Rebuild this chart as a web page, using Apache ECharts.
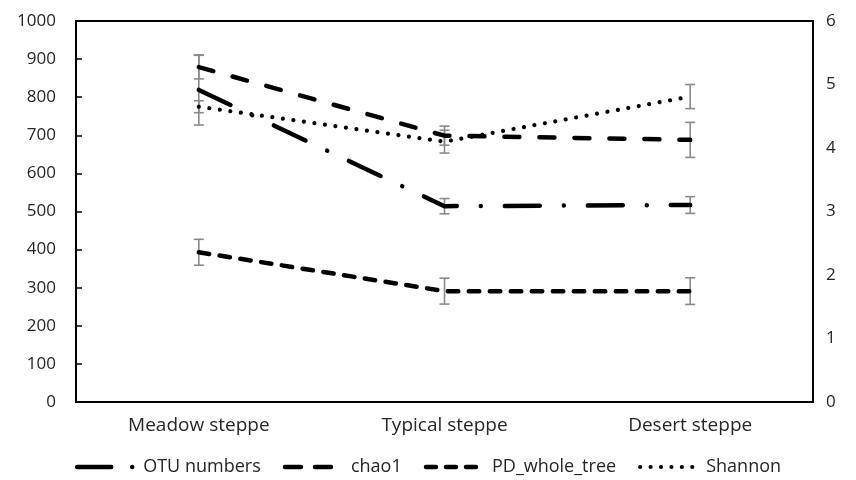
<!DOCTYPE html>
<html>
<head>
<meta charset="utf-8">
<script src="https://cdn.jsdelivr.net/npm/echarts@6/dist/echarts.min.js"></script>
<style>html,body{margin:0;padding:0;background:#fff}#c{width:856px;height:480px}</style>
</head>
<body>
<div id="c"></div>
<script>
const categories = ['Meadow steppe', 'Typical steppe', 'Desert steppe'];
const otu = [819, 514, 517];
const otuErr = [92, 20, 22];
const chao1 = [879, 699, 688];
const chao1Err = [31, 25, 46];
const pd = [393, 291, 291];
const pdErr = [34, 34, 35];
const shannon = [4.65, 4.10, 4.81];
const shannonErr = [0.094, 0.18, 0.19];
const leftTicks = [0, 100, 200, 300, 400, 500, 600, 700, 800, 900, 1000];
const rightTicks = [0, 1, 2, 3, 4, 5, 6];

const FONT = '"Open Sans", "Noto Sans", sans-serif';
const TXT = '#262626';

const dashes = {
  'OTU numbers': [35, 24, 0.01, 24],
  'chao1': [15, 20],
  'PD_whole_tree': [10.5, 10.5],
  'Shannon': [0.01, 10.6]
};
const legendDashes = {
  'OTU numbers': [34, 21, 0.01, 40],
  'chao1': [16, 14],
  'PD_whole_tree': [10, 10],
  'Shannon': [0.01, 10.4]
};
const widths = { 'OTU numbers': 4.5, 'chao1': 4.5, 'PD_whole_tree': 4.5, 'Shannon': 4.2 };

function errData(vals, errs) {
  return vals.map((v, i) => [i, v - errs[i], v + errs[i]]);
}
function errSeries(vals, errs, yIdx) {
  return {
    type: 'custom', yAxisIndex: yIdx, z: 1, silent: true,
    data: errData(vals, errs),
    renderItem: function (params, api) {
      const x = api.value(0);
      const lo = api.coord([x, api.value(1)]);
      const hi = api.coord([x, api.value(2)]);
      const hw = 5;
      const st = { stroke: '#8a8a8a', lineWidth: 1.6 };
      return {
        type: 'group',
        children: [
          { type: 'line', shape: { x1: lo[0], y1: lo[1], x2: hi[0], y2: hi[1] }, style: st },
          { type: 'line', shape: { x1: lo[0] - hw, y1: lo[1], x2: lo[0] + hw, y2: lo[1] }, style: st },
          { type: 'line', shape: { x1: hi[0] - hw, y1: hi[1], x2: hi[0] + hw, y2: hi[1] }, style: st }
        ]
      };
    }
  };
}
function lineSeries(name, vals, yIdx) {
  return {
    name: name, type: 'line', yAxisIndex: yIdx, z: 3,
    data: vals, symbol: 'none', color: '#000',
    itemStyle: { color: '#000' },
    lineStyle: { color: '#000', width: widths[name], type: dashes[name], cap: 'round', join: 'round' }
  };
}
const legendNames = ['OTU numbers', 'chao1', 'PD_whole_tree', 'Shannon'];

const chart = echarts.init(document.getElementById('c'));
chart.setOption({
  animation: false,
  backgroundColor: '#fff',
  grid: { left: 76, right: 43, top: 21, bottom: 78, show: true, borderColor: '#000', borderWidth: 2, backgroundColor: 'transparent' },
  legend: {
    top: 455, left: 'center', itemWidth: 58, itemHeight: 22, itemGap: 22, padding: 0,
    textStyle: { fontFamily: FONT, fontSize: 18, color: TXT, lineHeight: 24, padding: [0, 0, 0, 3] },
    itemStyle: { opacity: 0 },
    data: legendNames.map(n => ({
      name: n,
      itemStyle: { opacity: 0 },
      lineStyle: { color: '#000', width: widths[n], type: legendDashes[n], cap: 'round', opacity: 1 }
    }))
  },
  xAxis: {
    type: 'category', data: categories, boundaryGap: true,
    axisLine: { show: true, lineStyle: { color: '#000', width: 2 } },
    axisTick: { show: false },
    axisLabel: { fontFamily: FONT, fontSize: 19, color: TXT, margin: 14 }
  },
  yAxis: [
    {
      type: 'value', min: leftTicks[0], max: leftTicks[leftTicks.length - 1], interval: 100,
      splitLine: { show: false },
      axisLine: { show: true, lineStyle: { color: '#000', width: 2 } },
      axisTick: { show: true, inside: true, length: 6, lineStyle: { color: '#000', width: 1.5 } },
      axisLabel: { fontFamily: FONT, fontSize: 17, color: TXT, margin: 20, formatter: v => String(v) }
    },
    {
      type: 'value', min: rightTicks[0], max: rightTicks[rightTicks.length - 1], interval: 1,
      position: 'right',
      splitLine: { show: false },
      axisLine: { show: true, lineStyle: { color: '#000', width: 2 } },
      axisTick: { show: false },
      axisLabel: { fontFamily: FONT, fontSize: 17, color: TXT, margin: 13, formatter: v => String(v) }
    }
  ],
  series: [
    errSeries(otu, otuErr, 0),
    errSeries(chao1, chao1Err, 0),
    errSeries(pd, pdErr, 0),
    errSeries(shannon, shannonErr, 1),
    lineSeries('OTU numbers', otu, 0),
    lineSeries('chao1', chao1, 0),
    lineSeries('PD_whole_tree', pd, 0),
    lineSeries('Shannon', shannon, 1)
  ]
});
</script>
</body>
</html>
